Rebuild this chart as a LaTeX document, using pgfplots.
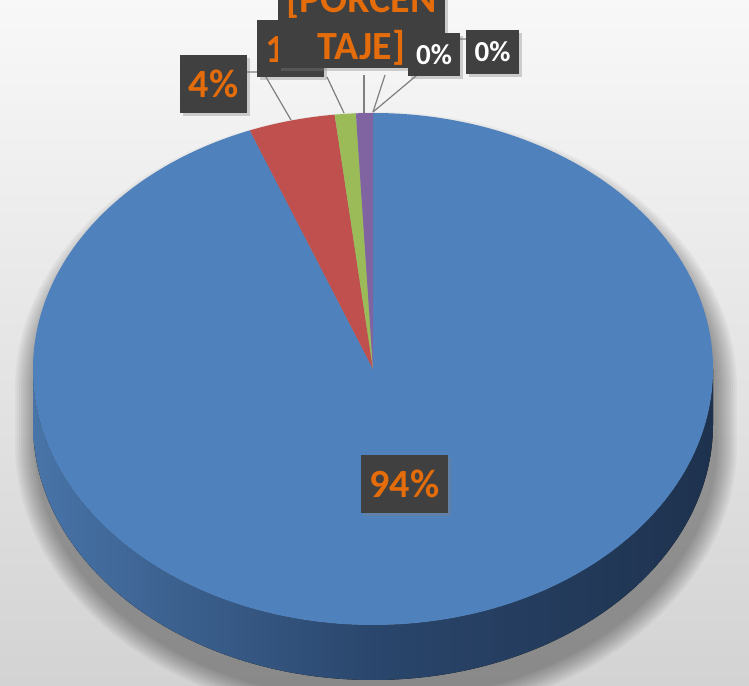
\documentclass[border=0pt]{standalone}
\usepackage{pgfplots}
\pgfplotsset{compat=1.18}
\usepackage{pgfplotstable}
\usepackage{fontspec}
\setmainfont{Carlito}
\usetikzlibrary{shadows}

\definecolor{sliceA}{HTML}{4F81BD}
\definecolor{sliceB}{HTML}{C0504D}
\definecolor{sliceC}{HTML}{9BBB59}
\definecolor{sliceD}{HTML}{8064A2}
\definecolor{sideL}{HTML}{4874A8}
\definecolor{sideM}{HTML}{2A466C}
\definecolor{sideR}{HTML}{1E324E}
\definecolor{bgTop}{HTML}{F8F8F8}
\definecolor{bgBot}{HTML}{D3D3D3}
\definecolor{boxgray}{HTML}{404040}
\definecolor{lblorange}{HTML}{E46C0A}
\definecolor{leader}{HTML}{7F7F7F}

\pgfplotstableread{
label value
S1 94.1
S2 4.1
S3 1.0
S4 0.8
S5 0.0
S6 0.0
}\piedata

\begin{document}
\begin{tikzpicture}
\pgfplotstablegetelem{0}{value}\of\piedata \pgfmathsetmacro\vA{\pgfplotsretval}
\pgfplotstablegetelem{1}{value}\of\piedata \pgfmathsetmacro\vB{\pgfplotsretval}
\pgfplotstablegetelem{2}{value}\of\piedata \pgfmathsetmacro\vC{\pgfplotsretval}
\pgfplotstablegetelem{3}{value}\of\piedata \pgfmathsetmacro\vD{\pgfplotsretval}
\pgfplotstablegetelem{4}{value}\of\piedata \pgfmathsetmacro\vE{\pgfplotsretval}
\pgfplotstablegetelem{5}{value}\of\piedata \pgfmathsetmacro\vF{\pgfplotsretval}
\pgfmathsetmacro\tot{\vA+\vB+\vC+\vD+\vE+\vF}
\pgfmathsetmacro\aA{90}
\pgfmathsetmacro\aB{\aA-360*(\vA/\tot)}
\pgfmathsetmacro\aC{\aB-360*(\vB/\tot)}
\pgfmathsetmacro\aD{\aC-360*(\vC/\tot)}
\pgfmathsetmacro\aE{\aD-360*(\vD/\tot)}
\begin{axis}[
  name=ax,
  scale only axis, width=749pt, height=685pt,
  xmin=0, xmax=749, ymin=0, ymax=685,
  hide axis, clip=true,
]
% background
\fill[top color=bgTop, bottom color=bgBot] (axis cs:0,0) rectangle (axis cs:749,685);
% soft shadow of the pie
\pgfplotsinvokeforeach{1,3,5,7,9,11,13,15,17,19,21}{
  \fill[black, opacity=0.035]
    (axis cs:{376+340+#1},{296}) arc[start angle=0, end angle=180, x radius={(340+#1)*1pt}, y radius={(256+#1)*1pt}]
    -- ++(0,-55pt) arc[start angle=180, end angle=360, x radius={(340+#1)*1pt}, y radius={(256+#1)*1pt}] -- cycle;
}
% side wall
\fill[left color=sideL, right color=sideR, middle color=sideM]
  (axis cs:33,316) arc[start angle=180, end angle=360, x radius=340pt, y radius=256pt]
  -- ++(0,-55pt) arc[start angle=0, end angle=-180, x radius=340pt, y radius=256pt] -- cycle;
% top faces of the slices
\fill[sliceA] (axis cs:373,316) -- +(\aA:340pt and 256pt) arc[start angle=\aA, end angle=\aB, x radius=340pt, y radius=256pt] -- cycle;
\fill[sliceB] (axis cs:373,316) -- +(\aB:340pt and 256pt) arc[start angle=\aB, end angle=\aC, x radius=340pt, y radius=256pt] -- cycle;
\fill[sliceC] (axis cs:373,316) -- +(\aC:340pt and 256pt) arc[start angle=\aC, end angle=\aD, x radius=340pt, y radius=256pt] -- cycle;
\fill[sliceD] (axis cs:373,316) -- +(\aD:340pt and 256pt) arc[start angle=\aD, end angle=\aE, x radius=340pt, y radius=256pt] -- cycle;
% leader lines
\draw[leader, line width=1.2pt] (axis cs:291,565) -- (axis cs:263,613) -- (axis cs:247,613);
\draw[leader, line width=1.2pt] (axis cs:344,572) -- (axis cs:327,608);
\draw[leader, line width=1.2pt] (axis cs:364,572) -- (axis cs:364,610);
\draw[leader, line width=1.2pt] (axis cs:373,573) -- (axis cs:385,610);
\draw[leader, line width=1.2pt] (axis cs:373,573) -- (axis cs:460,646) -- (axis cs:466,646);
% labels
\tikzset{lbl/.style={fill=boxgray, inner sep=0pt, drop shadow={shadow xshift=3pt, shadow yshift=-3pt, opacity=0.35}},
         ofont/.style={text=lblorange, font=\bfseries\fontsize{40}{48}\selectfont},
         wfont/.style={text=white, font=\bfseries\fontsize{29}{35}\selectfont}}
\node[lbl, ofont, minimum width=87pt, minimum height=58pt] at (axis cs:404.5,201) {94\%};
\node[lbl, ofont, minimum width=67pt, minimum height=58pt] at (axis cs:213.5,601) {4\%};
\node[lbl, ofont, minimum width=67pt, minimum height=57pt] at (axis cs:290.5,636.5) {1\%};
\fill[boxgray, drop shadow={shadow xshift=3pt, shadow yshift=-3pt, opacity=0.35}] (axis cs:278,617) rectangle (axis cs:445,720);
\node[ofont, anchor=base] at (axis cs:361.5,625) {TAJE]};
\node[ofont, anchor=base] at (axis cs:361.5,672) {[PORCEN};
\node[lbl, wfont, minimum width=52pt, minimum height=43pt] at (axis cs:434,630.5) {0\%};
\node[lbl, wfont, minimum width=53pt, minimum height=44pt] at (axis cs:492.5,633) {0\%};
\end{axis}
\pgfresetboundingbox
\path (ax.south west) rectangle (ax.north east);
\end{tikzpicture}
\end{document}
